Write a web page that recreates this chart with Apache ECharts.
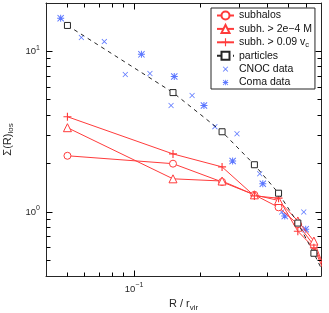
<!DOCTYPE html>
<html><head><meta charset="utf-8">
<script src="https://cdn.jsdelivr.net/npm/echarts@6/dist/echarts.min.js"></script>
<style>html,body{margin:0;padding:0;background:#fff}#c{width:329px;height:313px}</style>
</head><body><div id="c"></div>
<script>
// ---- data ----
const radius = [0.05, 0.15, 0.25, 0.35, 0.45, 0.55, 0.65, 0.75];
const subhalos = [2.24, 2.0, 1.54, 1.28, 1.07, 0.84, 0.62, 0.40];
const subhMass = [3.35, 1.61, 1.56, 1.28, 1.18, 0.88, 0.66, 0.40];
const subhVc = [3.92, 2.30, 1.91, 1.26, 1.22, 0.76, 0.60, 0.38];
const particles = [14.5, 5.54, 3.16, 1.97, 1.31, 0.854, 0.554, 0.37];
const cnocR = [0.0578, 0.0734, 0.0913, 0.118, 0.147, 0.183, 0.232, 0.292, 0.370, 0.465, 0.585];
const cnocS = [12.2, 11.5, 7.18, 7.29, 4.60, 5.31, 3.40, 3.07, 1.73, 1.0, 1.0];
const comaR = [0.0466, 0.108, 0.152, 0.207, 0.279, 0.382, 0.480, 0.597];
const comaS = [16.1, 9.58, 6.98, 4.60, 2.08, 1.50, 0.944, 0.783];
const xMajorTicks = [0.1];
const xMinorTicks = [0.05, 0.06, 0.07, 0.08, 0.09, 0.2, 0.3, 0.4, 0.5, 0.6];
const yMajorTicks = [1, 10];
const yMinorTicks = [0.5, 0.6, 0.7, 0.8, 0.9, 2, 3, 4, 5, 6, 7, 8, 9];
const xRange = [0.04, 0.7];
const yRange = [0.4, 20];

const RED = '#ff3b3b', BLUE = '#3355ff', BLK = '#262626';
const FONT = 'Liberation Sans, Arial, sans-serif';
const X_PATH = 'M0,1.4L1.4,0L7,5.6L12.6,0L14,1.4L8.4,7L14,12.6L12.6,14L7,8.4L1.4,14L0,12.6L5.6,7Z';
const PLUS_PATH = 'M6,0H8V6H14V8H8V14H6V8H0V6H6Z';
const PAD = 'M-6,-6M20,20';
const MAJOR_LEN = 6, MINOR_LEN = 4;

const pairs = (xs, ys) => xs.map((x, i) => [x, ys[i]]);
function powLabel(v) {
  const e = Math.round(Math.log10(v));
  if (Math.abs(Math.log10(v) - e) > 1e-6) return '';
  return '{b|10}{s|' + String(e).replace('-', '\u2212') + '}';
}
const labelRich = {
  b: {fontSize: 9.5, fontFamily: FONT, color: BLK, lineHeight: 14},
  s: {fontSize: 7, fontFamily: FONT, color: BLK, lineHeight: 6, verticalAlign: 'top'}
};
const nameRich = {
  m: {fontSize: 11, fontFamily: FONT, color: BLK, lineHeight: 14},
  sub: {fontSize: 8, fontFamily: FONT, color: BLK, lineHeight: 7, verticalAlign: 'bottom'}
};
function logAxis(pos, range, showLabel, extra) {
  return Object.assign({
    type: 'log', logBase: 10, position: pos, min: range[0], max: range[1],
    axisLine: {show: true, onZero: false, lineStyle: {color: BLK, width: 1}},
    axisTick: {show: false},
    axisLabel: {show: showLabel, formatter: powLabel, rich: labelRich, margin: 6,
                showMinLabel: false, showMaxLabel: false},
    splitLine: {show: false}
  }, extra || {});
}
function redLine(name, values, symbol, size) {
  const isPath = symbol.indexOf('path') === 0;
  return {name: name, type: 'line', xAxisIndex: 0, yAxisIndex: 0, data: pairs(radius, values),
    symbol: symbol, symbolSize: size, color: RED, clip: true,
    lineStyle: {color: RED, width: 1},
    itemStyle: {color: isPath ? RED : '#fff', borderColor: RED, borderWidth: isPath ? 0 : 1}};
}
const crisp = v => Math.round(v - 0.5) + 0.5;

const chart = echarts.init(document.getElementById('c'), null, {renderer: 'canvas'});
chart.setOption({
  backgroundColor: '#fff',
  animation: false,
  grid: {left: 46, right: 8, top: 3, bottom: 37, outerBoundsMode: 'none', containLabel: false},
  xAxis: [
    logAxis('bottom', xRange, true, {
      name: '{m|R / r}{sub|vir}', nameLocation: 'middle', nameGap: 16,
      nameTextStyle: {rich: nameRich}
    }),
    logAxis('top', xRange, false)
  ],
  yAxis: [
    logAxis('left', yRange, true, {
      name: '{m|\u03a3(R)}{sub|los}', nameLocation: 'middle', nameGap: 24,
      nameTextStyle: {rich: nameRich}
    }),
    logAxis('right', yRange, false)
  ],
  legend: {
    orient: 'vertical', left: 211, top: 8,
    padding: [1, 3, 0, 5], itemWidth: 17, itemHeight: 10, itemGap: 0.4,
    backgroundColor: '#fff', borderColor: BLK, borderWidth: 1, borderRadius: 0, z: 20,
    textStyle: {fontSize: 10.5, fontFamily: FONT, color: '#111', lineHeight: 13,
      rich: {sub: {fontSize: 7.5, fontFamily: FONT, color: '#111', lineHeight: 6, verticalAlign: 'bottom'}}},
    formatter: n => n === 'subh. > 0.09 vc' ? 'subh. > 0.09 v{sub|c}' : n,
    data: [
      {name: 'subhalos'},
      {name: 'subh. > 2e\u22124 M'},
      {name: 'subh. > 0.09 vc'},
      {name: 'particles'},
      {name: 'CNOC data', icon: 'path://' + PAD + X_PATH},
      {name: 'Coma data', icon: 'path://' + PAD + PLUS_PATH + X_PATH}
    ]
  },
  series: [
    redLine('subhalos', subhalos, 'circle', 7),
    redLine('subh. > 2e\u22124 M', subhMass, 'triangle', 8),
    redLine('subh. > 0.09 vc', subhVc, 'path://' + PLUS_PATH, 8),
    {name: 'particles', type: 'line', xAxisIndex: 0, yAxisIndex: 0, data: pairs(radius, particles),
     symbol: 'rect', symbolSize: 6, color: BLK, clip: true,
     lineStyle: {color: BLK, width: 1, type: [4, 4]}, itemStyle: {color: '#fff', borderColor: BLK, borderWidth: 1}},
    {name: 'CNOC data', type: 'scatter', xAxisIndex: 0, yAxisIndex: 0, data: pairs(cnocR, cnocS),
     symbol: 'path://' + X_PATH, symbolSize: 5.5, color: BLUE, itemStyle: {color: BLUE}},
    {name: 'Coma data', type: 'scatter', xAxisIndex: 0, yAxisIndex: 0, data: pairs(comaR, comaS),
     symbol: 'path://' + PLUS_PATH + X_PATH, symbolSize: 7, color: BLUE, itemStyle: {color: BLUE}}
  ]
});

// inward ticks on all four sides, positioned through the chart's own axis scales
(function () {
  try {
    const toPx = (x, y) => chart.convertToPixel({gridIndex: 0}, [x, y]);
    const lo = toPx(xRange[0], yRange[0]);
    const hi = toPx(xRange[1], yRange[1]);
    const pxL = crisp(lo[0]), pxB = crisp(lo[1]), pxR = crisp(hi[0]), pxT = crisp(hi[1]);
    const els = [];
    const seg = (x1, y1, x2, y2) => ({type: 'line', silent: true, z: 100,
      shape: {x1: x1, y1: y1, x2: x2, y2: y2}, style: {stroke: '#000', lineWidth: 1}});
    const addX = (v, len) => {
      const x = crisp(toPx(v, yRange[0])[0]);
      els.push(seg(x, pxB, x, pxB - len), seg(x, pxT, x, pxT + len));
    };
    const addY = (v, len) => {
      const y = crisp(toPx(xRange[0], v)[1]);
      els.push(seg(pxL, y, pxL + len, y), seg(pxR, y, pxR - len, y));
    };
    xMajorTicks.forEach(v => addX(v, MAJOR_LEN));
    xMinorTicks.forEach(v => addX(v, MINOR_LEN));
    yMajorTicks.forEach(v => addY(v, MAJOR_LEN));
    yMinorTicks.forEach(v => addY(v, MINOR_LEN));
    chart.setOption({graphic: {elements: els}});
  } catch (e) { console.error(e); }
})();
</script>
</body></html>
